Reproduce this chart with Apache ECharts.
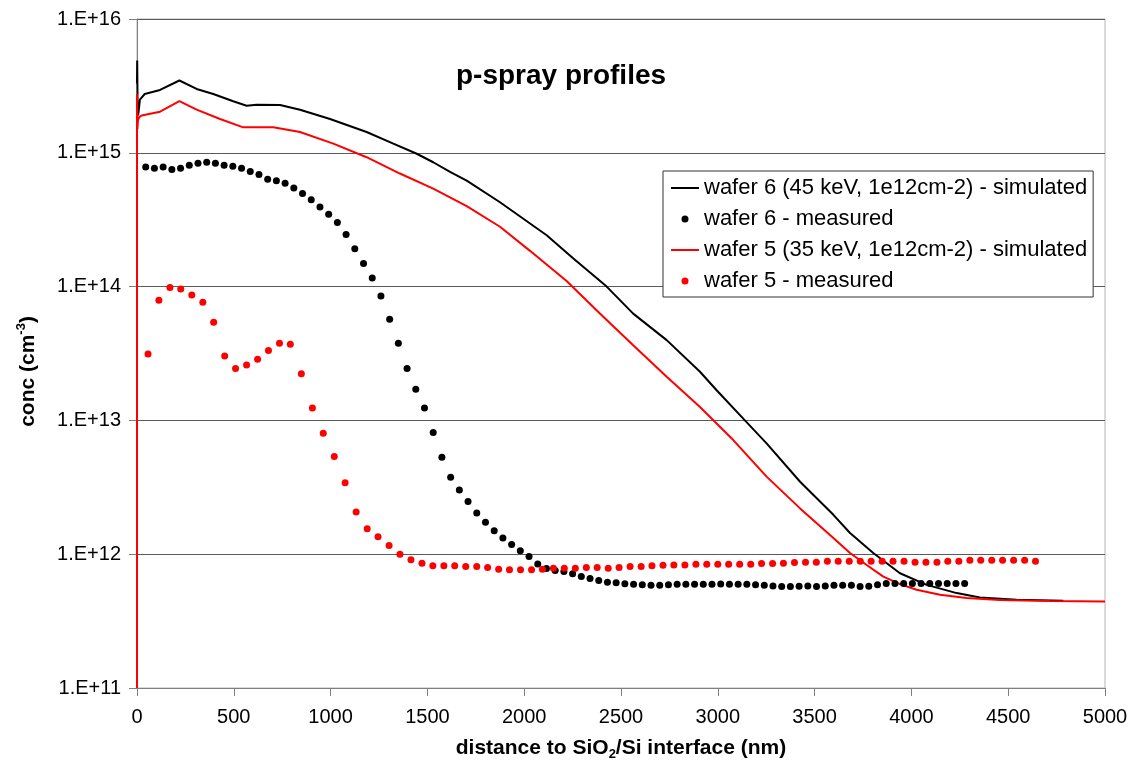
<!DOCTYPE html>
<html>
<head>
<meta charset="utf-8">
<script src="https://cdn.jsdelivr.net/npm/echarts@6/dist/echarts.min.js"></script>
<style>html,body{margin:0;padding:0;background:#fff;}#chart{width:1129px;height:767px;}</style>
</head>
<body>
<div id="chart"></div>
<script>
// ---- data ----
var seriesNames = [
  'wafer 6 (45 keV, 1e12cm-2) - simulated',
  'wafer 6 - measured',
  'wafer 5 (35 keV, 1e12cm-2) - simulated',
  'wafer 5 - measured'
];
var yTickExponents = [11, 12, 13, 14, 15, 16];

var w6SimX = [0,1,3,6,15,40,119,219,308,394,497,566,618,739,842,997,1186,1324,1445,1530,1617,1703,1875,2116,2254,2426,2563,2736,2908,2994,3140,3252,3425,3597,3683,3803,3941,4079,4234,4354,4544,4785];
var w6SimY = [3.3e15,4.9e15,2.4e15,1.9e15,2.5e15,2.75e15,2.95e15,3.47e15,3.0e15,2.75e15,2.43e15,2.25e15,2.29e15,2.28e15,2.1e15,1.79e15,1.43e15,1.17e15,9.84e14,8.5e14,7.2e14,6.2e14,4.27e14,2.42e14,1.62e14,1.0e14,6.28e13,3.98e13,2.31e13,1.68e13,1.0e13,6.73e12,3.48e12,1.97e12,1.44e12,1.02e12,7.2e11,5.9e11,5.12e11,4.74e11,4.56e11,4.48e11];

var w5SimX = [0,0,2,5,12,24,119,219,308,429,549,704,842,1014,1186,1358,1530,1703,1875,2030,2219,2391,2563,2736,2908,3080,3252,3425,3511,3597,3683,3769,3855,3941,4027,4148,4285,4457,4715,5000];
var w5SimY = [1e11,2.75e15,1.5e15,1.75e15,1.85e15,1.9e15,2.03e15,2.43e15,2.1e15,1.79e15,1.55e15,1.55e15,1.43e15,1.17e15,9.27e14,7.0e14,5.4e14,4.0e14,2.8e14,1.85e14,1.1e14,6.3e13,3.65e13,2.12e13,1.26e13,7.13e12,3.8e12,2.2e12,1.7e12,1.32e12,1.02e12,8.3e11,6.8e11,5.97e11,5.42e11,4.97e11,4.7e11,4.54e11,4.46e11,4.43e11];

var w6MeasX = [45,90,135,180,225,270,315,360,405,450,495,540,585,630,675,720,765,810,855,900,945,990,1035,1080,1125,1170,1215,1260,1305,1350,1395,1440,1485,1530,1575,1620,1665,1710,1755,1800,1845,1890,1935,1980,2025,2070,2115,2160,2205,2250,2295,2340,2385,2430,2475,2520,2565,2610,2655,2700,2745,2790,2835,2880,2925,2970,3015,3060,3105,3150,3195,3240,3285,3330,3375,3420,3465,3510,3555,3600,3645,3690,3735,3780,3825,3870,3915,3960,4005,4050,4095,4140,4185,4230,4275];
var w6MeasY = [7.82e14,7.67e14,7.82e14,7.50e14,7.67e14,8.07e14,8.36e14,8.51e14,8.36e14,8.07e14,7.94e14,7.67e14,7.24e14,6.89e14,6.35e14,6.18e14,5.93e14,5.45e14,4.97e14,4.46e14,3.93e14,3.48e14,3.01e14,2.45e14,1.92e14,1.49e14,1.16e14,8.51e13,5.71e13,3.78e13,2.44e13,1.71e13,1.24e13,8.13e12,5.30e12,3.76e12,3.02e12,2.48e12,2.03e12,1.73e12,1.50e12,1.32e12,1.18e12,1.06e12,9.60e11,8.43e11,7.82e11,7.55e11,7.41e11,7.13e11,6.81e11,6.58e11,6.35e11,6.18e11,6.11e11,6.01e11,5.97e11,5.90e11,5.86e11,5.86e11,5.90e11,5.97e11,5.97e11,5.96e11,5.97e11,5.97e11,5.98e11,5.97e11,5.96e11,5.97e11,5.90e11,5.86e11,5.79e11,5.73e11,5.73e11,5.76e11,5.79e11,5.73e11,5.79e11,5.86e11,5.86e11,5.86e11,5.73e11,5.75e11,5.90e11,6.04e11,6.04e11,6.03e11,6.04e11,6.04e11,6.05e11,6.04e11,6.04e11,6.03e11,6.04e11];

var w5MeasX = [57,113,170,226,283,340,396,453,509,566,623,679,736,792,849,906,962,1019,1075,1132,1189,1245,1302,1358,1415,1472,1528,1585,1641,1698,1755,1811,1868,1924,1981,2038,2094,2151,2207,2264,2321,2377,2434,2490,2547,2604,2660,2717,2773,2830,2887,2943,3000,3056,3113,3170,3226,3283,3339,3396,3453,3509,3566,3622,3679,3736,3792,3849,3905,3962,4019,4075,4132,4188,4245,4302,4358,4415,4471,4528,4585,4641];
var w5MeasY = [3.14e13,7.91e13,9.84e13,9.60e13,8.65e13,7.64e13,5.42e13,3.03e13,2.44e13,2.59e13,2.86e13,3.33e13,3.78e13,3.71e13,2.23e13,1.24e13,8.00e12,5.38e12,3.42e12,2.07e12,1.55e12,1.35e12,1.16e12,1.00e12,9.08e11,8.57e11,8.18e11,8.18e11,8.18e11,8.09e11,8.09e11,7.94e11,7.73e11,7.64e11,7.64e11,7.64e11,7.73e11,7.85e11,7.85e11,7.85e11,7.94e11,7.94e11,7.85e11,7.94e11,8.09e11,8.09e11,8.18e11,8.28e11,8.32e11,8.32e11,8.41e11,8.41e11,8.41e11,8.41e11,8.41e11,8.41e11,8.51e11,8.51e11,8.57e11,8.67e11,8.71e11,8.71e11,8.87e11,8.87e11,8.87e11,8.87e11,8.87e11,8.87e11,8.87e11,8.87e11,8.71e11,8.71e11,8.71e11,8.87e11,8.87e11,9.02e11,9.02e11,9.02e11,9.02e11,9.02e11,9.02e11,8.87e11];

function pairs(xs, ys) { return xs.map(function (x, i) { return [x, ys[i]]; }); }

var FONT = '"Liberation Sans", Arial, sans-serif';
var chart = echarts.init(document.getElementById('chart'), null, {renderer: 'canvas'});
chart.setOption({
  animation: false,
  backgroundColor: '#ffffff',
  title: {
    text: 'p-spray profiles',
    left: 451, top: 57,
    textStyle: {fontFamily: FONT, fontSize: 28, fontWeight: 'bold', color: '#000'}
  },
  grid: {
    left: 137, right: 24, top: 19, bottom: 79,
    containLabel: false, outerBoundsMode: 'none',
    show: true, borderColor: '#b4b4b4', borderWidth: 1, backgroundColor: 'transparent'
  },
  legend: {
    orient: 'vertical',
    left: 663, top: 171,
    padding: [6, 6, 5, 7],
    itemGap: 9,
    itemWidth: 28, itemHeight: 7,
    backgroundColor: '#fff',
    borderColor: '#333', borderWidth: 1,
    textStyle: {fontFamily: FONT, fontSize: 22, color: '#000', lineHeight: 22},
    data: [
      {name: seriesNames[0], itemStyle: {opacity: 0}},
      {name: seriesNames[1], icon: 'circle'},
      {name: seriesNames[2], itemStyle: {opacity: 0}},
      {name: seriesNames[3], icon: 'circle'}
    ]
  },
  xAxis: {
    type: 'value', min: 0, max: 5000, interval: 500,
    name: '{a|distance to SiO}{s|2}{a|/Si interface (nm)}',
    nameLocation: 'middle', nameGap: 47,
    nameTextStyle: {
      rich: {
        a: {fontFamily: FONT, fontSize: 21, fontWeight: 'bold', color: '#000', lineHeight: 26},
        s: {fontFamily: FONT, fontSize: 13, fontWeight: 'bold', color: '#000', verticalAlign: 'bottom', lineHeight: 13}
      }
    },
    axisLine: {show: true, onZero: false, lineStyle: {color: '#808080', width: 1}},
    axisTick: {show: true, length: 8, inside: false, lineStyle: {color: '#808080'}},
    axisLabel: {
      fontFamily: FONT, fontSize: 20, color: '#000', margin: 19,
      formatter: function (v) { return String(v); }
    },
    splitLine: {show: false}
  },
  yAxis: {
    type: 'log', logBase: 10, min: 1e11, max: 1e16,
    name: '{a|conc (cm}{s|-3}{a|)}',
    nameLocation: 'middle', nameGap: 96,
    nameTextStyle: {
      padding: [0, 36, 0, 0],
      rich: {
        a: {fontFamily: FONT, fontSize: 21, fontWeight: 'bold', color: '#000', lineHeight: 26},
        s: {fontFamily: FONT, fontSize: 13, fontWeight: 'bold', color: '#000', verticalAlign: 'top', lineHeight: 13}
      }
    },
    axisLine: {show: true, lineStyle: {color: '#808080', width: 1}},
    axisTick: {show: true, length: 8, inside: false, lineStyle: {color: '#808080'}},
    axisLabel: {
      fontFamily: FONT, fontSize: 20, color: '#000', margin: 16,
      formatter: function (v) {
        var e = Math.round(Math.log10(v));
        return yTickExponents.indexOf(e) >= 0 ? '1.E+' + e : '';
      }
    },
    splitLine: {show: true, lineStyle: {color: '#5a5a5a', width: 1}}
  },
  series: [
    {
      name: seriesNames[0], type: 'line', data: pairs(w6SimX, w6SimY),
      symbol: 'none', smooth: false, lineStyle: {color: '#000000', width: 2},
      itemStyle: {color: '#000000'}, z: 3
    },
    {
      name: seriesNames[1], type: 'scatter', data: pairs(w6MeasX, w6MeasY),
      symbol: 'circle', symbolSize: 7, itemStyle: {color: '#000000', opacity: 1}, z: 4
    },
    {
      name: seriesNames[2], type: 'line', data: pairs(w5SimX, w5SimY),
      symbol: 'none', smooth: false, lineStyle: {color: '#ff0000', width: 2},
      itemStyle: {color: '#ff0000'}, z: 3
    },
    {
      name: seriesNames[3], type: 'scatter', data: pairs(w5MeasX, w5MeasY),
      symbol: 'circle', symbolSize: 7, itemStyle: {color: '#ff0000', opacity: 1}, z: 4
    }
  ]
});
</script>
</body>
</html>
